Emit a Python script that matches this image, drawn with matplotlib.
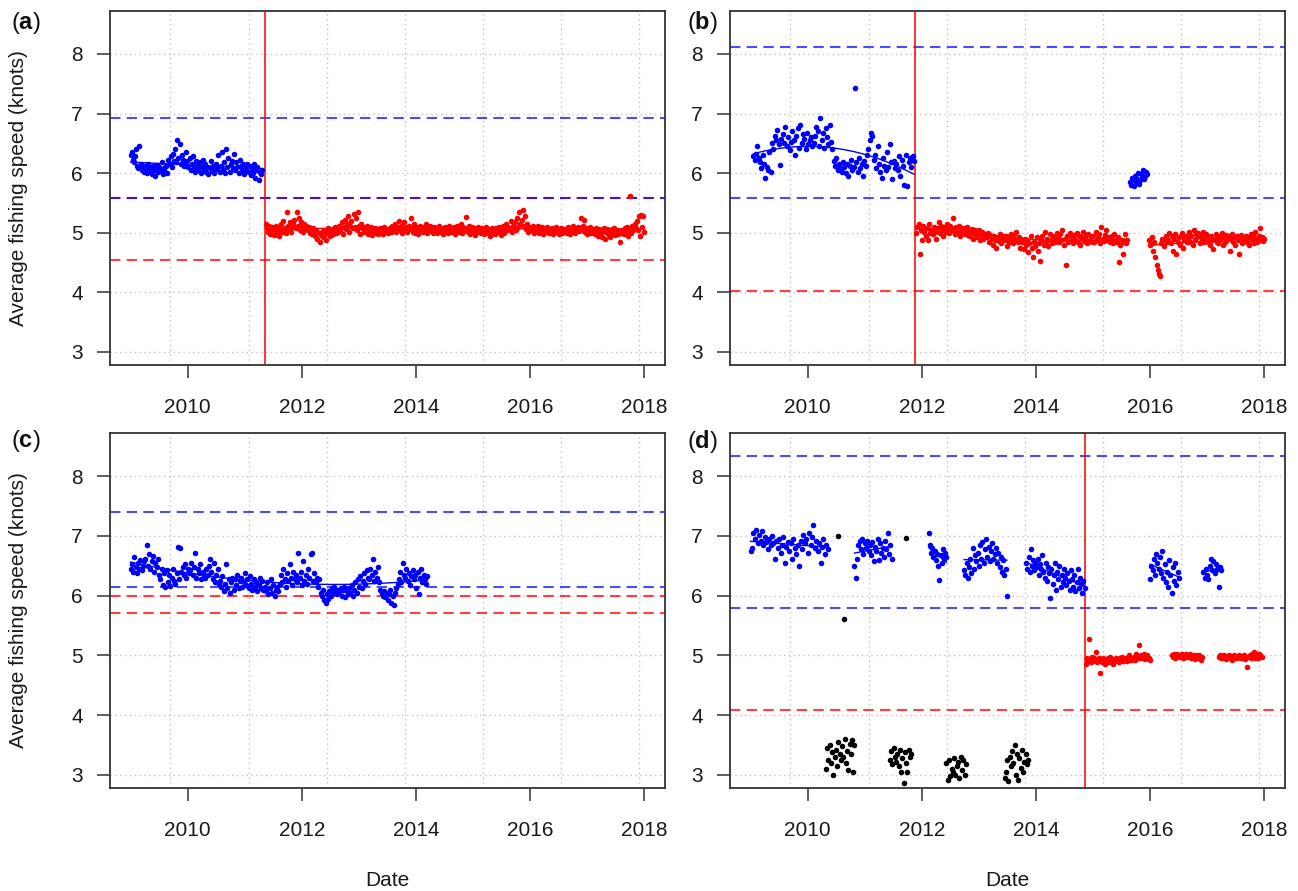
import numpy as np
import matplotlib.pyplot as plt

plt.rcParams['font.family'] = ['Liberation Sans', 'DejaVu Sans']
plt.rcParams['mathtext.fontset'] = 'custom'
plt.rcParams['mathtext.rm'] = 'Liberation Sans'
plt.rcParams['mathtext.bf'] = 'Liberation Sans:bold'

W, H = 1298, 891

# ---------------- data: average fishing speed (knots), dates in decimal years
# panel (a)
a_blue_span = (2009.0, 2011.30)
a_blue = [6.30, 6.35, 6.22, 6.18, 6.28, 6.40, 6.12, 6.08, 6.45, 6.15, 6.05, 6.10, 6.02,
          6.12, 6.08, 6.00, 6.15, 6.05, 6.10, 5.98, 6.12, 6.06, 5.95, 6.08, 6.14, 6.02,
          6.10, 6.05, 6.18, 5.98, 6.08, 6.02, 6.12, 6.00, 6.22, 6.15, 6.28, 6.10, 6.32,
          6.20, 6.40, 6.18, 6.55, 6.25, 6.48, 6.15, 6.30, 6.22, 6.12, 6.18, 6.35, 6.20,
          6.10, 6.25, 6.05, 6.15, 6.28, 6.08, 6.02, 6.20, 6.12, 6.05, 6.18, 6.00, 6.10,
          6.22, 6.05, 6.15, 6.02, 6.10, 5.98, 6.08, 6.20, 6.04, 6.12, 6.00, 6.06, 6.15,
          6.08, 6.30, 6.02, 6.12, 6.35, 6.05, 6.18, 6.00, 6.40, 6.10, 6.25, 6.02, 6.15,
          6.20, 6.08, 6.32, 6.05, 6.18, 6.10, 6.00, 6.22, 6.12, 6.05, 6.15, 5.98, 6.10,
          6.05, 6.15, 6.02, 6.12, 5.96, 6.08, 6.00, 6.15, 5.92, 6.05, 6.10, 5.88, 6.02, 5.98, 6.05]
a_red_span = (2011.37, 2018.0)
a_red = [5.15, 5.08, 5.02, 5.12, 4.98, 5.05, 5.10, 4.96, 5.04, 5.12, 5.00, 5.08, 4.95,
         5.06, 5.14, 5.02, 5.20, 5.08, 5.00, 5.35, 5.12, 5.05, 5.18, 5.02, 5.10, 5.15,
         5.22, 5.08, 5.35, 5.12, 5.25, 5.05, 5.18, 5.10, 5.02, 5.14, 5.08, 5.12, 5.04,
         5.10, 5.00, 5.06, 4.98, 5.08, 5.02, 4.95, 5.05, 4.90, 5.00, 4.85, 4.96, 5.02,
         4.92, 5.05, 4.98, 4.88, 5.02, 5.08, 4.95, 5.00, 5.06, 4.98, 5.04, 5.10, 5.00,
         5.08, 5.02, 5.12, 5.05, 5.18, 4.98, 5.10, 5.22, 5.06, 5.15, 5.28, 5.02, 5.12,
         5.20, 5.08, 5.32, 5.10, 5.25, 5.05, 5.35, 5.12, 4.98, 5.15, 5.08, 5.02, 5.10,
         5.05, 5.12, 4.98, 5.08, 5.02, 5.10, 4.96, 5.04, 5.08, 5.00, 5.06, 4.98, 5.03,
         5.08, 5.00, 5.05, 4.97, 5.10, 5.02, 5.06, 4.99, 5.04, 5.08, 5.01, 5.12, 5.03,
         5.06, 5.15, 5.02, 5.10, 5.20, 5.05, 5.12, 5.00, 5.08, 5.18, 5.04, 5.10, 5.02,
         5.12, 5.06, 5.25, 5.08, 5.02, 5.14, 5.00, 5.10, 5.05, 4.98, 5.12, 5.04, 5.08,
         5.02, 5.10, 5.05, 5.15, 5.00, 5.08, 5.03, 5.12, 5.06, 5.00, 5.10, 5.04, 5.08,
         5.00, 5.06, 5.12, 5.02, 5.08, 4.98, 5.05, 5.10, 5.03, 5.07, 5.00, 5.12, 5.05,
         5.08, 5.02, 5.10, 4.98, 5.06, 5.12, 5.02, 5.08, 5.04, 5.15, 5.00, 5.10, 5.05,
         5.27, 5.08, 5.02, 5.12, 4.98, 5.06, 5.10, 5.03, 5.08, 4.96, 5.05, 5.10, 5.02,
         5.06, 5.00, 5.08, 5.03, 4.97, 5.05, 5.10, 5.00, 5.06, 4.95, 5.04, 5.08, 5.02,
         5.05, 4.98, 5.08, 5.02, 5.10, 5.04, 4.96, 5.06, 5.12, 5.00, 5.08, 5.15, 5.04,
         5.10, 5.06, 5.20, 5.02, 5.12, 5.08, 5.18, 5.04, 5.25, 5.10, 5.35, 5.15, 5.22,
         5.38, 5.12, 5.28, 5.06, 5.15, 5.02, 5.10, 5.08, 5.04, 5.12, 5.00, 5.06, 5.10,
         5.04, 5.12, 5.00, 5.08, 5.03, 5.10, 4.98, 5.06, 5.02, 5.09, 5.04, 5.00, 5.07,
         5.02, 5.08, 4.98, 5.05, 5.10, 5.01, 5.06, 4.97, 5.04, 5.08, 5.00, 5.05, 5.02,
         5.06, 5.00, 5.10, 5.03, 4.98, 5.08, 5.02, 5.12, 5.04, 5.00, 5.06, 5.10, 5.03,
         5.08, 5.25, 5.04, 5.12, 5.22, 5.02, 5.08, 4.98, 5.05, 5.10, 5.00, 5.06, 5.02,
         5.05, 4.98, 5.08, 5.02, 4.95, 5.06, 5.00, 4.92, 5.04, 5.08, 4.90, 5.02, 5.06,
         4.98, 5.04, 4.92, 5.06, 5.00, 5.08, 4.96, 5.02, 5.05, 4.98, 5.03, 4.85, 5.00,
         5.04, 4.98, 5.08, 5.02, 5.10, 4.95, 5.06, 5.62, 5.00, 5.12, 5.04, 5.15, 5.08,
         5.20, 5.05, 5.28, 4.95, 5.30, 5.10, 5.28, 5.02]

# panel (b)
b_blue_span = (2009.05, 2011.86)
b_blue = [6.28, 6.22, 6.32, 6.45, 6.25, 6.18, 6.08, 6.30, 6.15, 5.92, 6.10, 6.05, 6.35, 6.02, 6.50,
          6.40, 6.62, 6.55, 6.72, 6.48, 6.13, 6.58, 6.65, 6.50, 6.78, 6.45, 6.60, 6.38, 6.52, 6.70,
          6.55, 6.30, 6.62, 6.75, 6.42, 6.80, 6.50, 6.65, 6.58, 6.40, 6.68, 6.48, 6.55, 6.60, 6.45,
          6.50, 6.62, 6.78, 6.70, 6.45, 6.92, 6.55, 6.68, 6.42, 6.75, 6.60, 6.48, 6.80, 6.52, 6.40,
          6.20, 6.12, 6.25, 6.05, 6.15, 6.08, 6.02, 6.18, 6.10, 6.00, 6.15, 5.95, 6.12, 6.22, 6.05,
          6.10, 7.43, 6.18, 6.02, 6.25, 6.08, 6.15, 5.95, 6.20, 6.12, 6.30, 6.40, 6.55, 6.68, 6.62,
          6.22, 6.30, 6.08, 6.45, 6.15, 6.02, 5.92, 6.25, 6.12, 6.05, 6.35, 6.10, 6.48, 6.18, 5.90,
          6.20, 6.08, 6.15, 6.05, 6.28, 5.95, 6.22, 6.12, 5.80, 6.30, 5.78, 6.18, 6.25, 6.10, 6.28, 6.20]
b_blue2_span = (2015.65, 2015.95)
b_blue2 = [5.85, 5.80, 5.92, 5.88, 5.78, 5.95, 5.85, 5.90, 6.00, 5.82, 5.88, 5.98,
           5.92, 6.05, 5.90, 5.95, 6.02, 5.98]
b_red_span = (2011.90, 2015.60)
b_red = [5.00, 5.10, 5.15, 4.65, 5.05, 4.88, 5.12, 5.02, 4.95, 5.08, 4.88, 5.15, 5.00, 5.05, 4.98,
         5.10, 5.02, 4.90, 5.08, 5.18, 5.00, 5.12, 5.05, 4.95, 5.10, 5.02, 5.15, 5.08, 5.00, 5.12,
         5.05, 5.25, 5.08, 4.98, 5.10, 5.02, 5.12, 4.95, 5.05, 5.00, 5.08, 4.98, 5.04, 5.10, 4.96,
         5.02, 4.95, 5.06, 4.90, 5.00, 5.04, 4.92, 4.98, 5.05, 4.88, 4.96, 5.02, 4.90, 4.98, 4.94,
         4.92, 5.00, 4.85, 4.96, 4.90, 4.80, 4.95, 4.88, 4.75, 4.92, 4.86, 4.98, 4.82, 4.90, 4.94,
         4.88, 4.95, 4.78, 4.92, 4.85, 4.98, 4.90, 4.82, 4.96, 4.88, 5.02, 4.85, 4.92, 4.75, 4.90,
         4.85, 4.72, 4.90, 4.80, 4.88, 4.68, 4.82, 4.95, 4.75, 4.60, 4.85, 4.78, 4.92, 4.70, 4.82,
         4.52, 4.88, 4.95, 4.80, 5.02, 4.85, 4.90, 4.78, 4.98, 4.88, 4.82, 4.95, 4.90, 4.85, 5.00,
         4.92, 4.85, 4.98, 4.88, 5.05, 4.80, 4.90, 4.46, 4.95, 4.85, 5.00, 4.88, 4.92, 4.82, 4.96,
         4.88, 5.00, 4.85, 4.95, 4.80, 4.92, 5.02, 4.86, 4.90, 4.96, 4.82, 4.98, 4.88, 4.94, 4.85,
         4.95, 4.85, 5.02, 4.88, 4.92, 4.98, 4.82, 5.10, 4.90, 4.86, 4.96, 5.05, 4.88, 4.92, 4.84,
         4.90, 4.95, 4.82, 4.98, 4.88, 4.85, 4.92, 4.50, 4.80, 4.88, 4.65, 4.85, 4.98, 4.82, 4.88]
b_red2_span = (2015.97, 2018.0)
b_red2 = [4.88, 4.80, 4.82, 4.92, 4.70, 4.85, 4.60, 4.45, 4.38, 4.30, 4.28, 4.82, 4.90, 4.78, 4.88, 4.95, 4.85,
          4.88, 5.00, 4.82, 4.95, 4.70, 4.90, 4.98, 4.65, 4.85, 4.92, 4.80, 4.95, 5.00, 4.75, 4.88, 4.95, 4.85,
          4.90, 5.02, 4.85, 4.95, 4.80, 5.05, 4.88, 4.98, 4.92, 5.00, 4.82, 4.95, 4.88, 5.02, 4.85, 4.92, 4.98,
          4.85, 4.92, 4.80, 4.95, 4.88, 4.72, 4.90, 4.98, 4.85, 4.82, 4.95, 4.88, 5.00, 4.80, 4.92, 4.85, 4.96,
          4.88, 4.95, 4.70, 4.90, 4.98, 4.85, 4.92, 4.80, 4.95, 4.88, 4.65, 4.90, 4.96, 4.82, 4.92, 4.88, 4.95,
          4.85, 4.92, 4.80, 4.98, 4.88, 4.95, 4.82, 5.02, 4.90, 4.85, 4.95, 5.08, 4.88, 4.92, 4.86, 4.90]

# panel (c)
c_blue_span = (2009.0, 2014.2)
c_blue = [6.45, 6.52, 6.40, 6.65, 6.48, 6.38, 6.55, 6.45, 6.60, 6.42, 6.50, 6.58,
          6.62, 6.84, 6.50, 6.70, 6.45, 6.58, 6.66, 6.40, 6.55, 6.48, 6.62, 6.35,
          6.28, 6.45, 6.18, 6.38, 6.15, 6.42, 6.22, 6.35, 6.16, 6.30, 6.45, 6.25,
          6.20, 6.38, 6.82, 6.28, 6.79, 6.40, 6.48, 6.35, 6.52, 6.30, 6.45, 6.38,
          6.42, 6.55, 6.35, 6.48, 6.72, 6.30, 6.45, 6.38, 6.52, 6.28, 6.40, 6.35,
          6.30, 6.45, 6.35, 6.50, 6.62, 6.40, 6.28, 6.55, 6.22, 6.35, 6.45, 6.20,
          6.25, 6.15, 6.32, 6.08, 6.20, 6.52, 6.12, 6.28, 6.05, 6.22, 6.30, 6.10,
          6.28, 6.18, 6.35, 6.12, 6.25, 6.30, 6.15, 6.22, 6.38, 6.18, 6.28, 6.12,
          6.32, 6.20, 6.10, 6.28, 6.15, 6.22, 6.08, 6.18, 6.30, 6.12, 6.25, 6.10,
          6.15, 6.08, 6.22, 6.02, 6.12, 6.28, 6.05, 6.18, 6.00, 6.10, 6.15, 6.08,
          6.20, 6.35, 6.22, 6.45, 6.28, 6.15, 6.38, 6.25, 6.52, 6.30, 6.18, 6.40,
          6.28, 6.35, 6.22, 6.72, 6.30, 6.40, 6.18, 6.58, 6.25, 6.35, 6.20, 6.45,
          6.30, 6.70, 6.72, 6.25, 6.38, 6.22, 6.30, 6.15, 6.28, 6.05, 6.00, 6.10,
          5.92, 5.88, 6.02, 5.95, 6.08, 6.00, 6.12, 6.05, 6.15, 6.08, 6.02, 6.10,
          6.05, 6.12, 6.00, 6.10, 6.15, 5.98, 6.08, 6.02, 6.12, 6.05, 6.18, 6.00,
          6.10, 6.22, 6.05, 6.28, 6.15, 6.32, 6.12, 6.25, 6.38, 6.20, 6.42, 6.30,
          6.28, 6.45, 6.35, 6.62, 6.25, 6.40, 6.30, 6.48, 6.22, 6.10, 6.05, 6.00,
          6.08, 5.98, 6.05, 5.92, 6.02, 6.10, 5.88, 6.00, 5.85, 6.05, 6.12, 6.20,
          6.28, 6.40, 6.22, 6.55, 6.35, 6.30, 6.45, 6.25, 6.38, 6.18, 6.32, 6.42,
          6.28, 6.35, 6.12, 6.40, 6.02, 6.30, 6.45, 6.22, 6.35, 6.28, 6.20, 6.32]

# panel (d): seasonal clusters
d_blue_spans = [(2009.0, 2010.35), (2010.82, 2011.47), (2012.12, 2012.43), (2012.74, 2013.49),
                (2013.83, 2014.85), (2016.0, 2016.5), (2016.93, 2017.24)]
d_blue = [
    [6.75, 6.80, 7.05, 6.95, 7.10, 6.88, 7.02, 6.92, 7.08, 6.85, 6.98, 6.90,
     6.78, 6.95, 6.85, 7.00, 6.88, 6.62, 6.92, 6.80, 6.95, 6.72, 6.85, 6.98,
     6.55, 6.82, 6.90, 6.75, 6.88, 6.62, 6.95, 6.80, 6.70, 6.85, 6.50, 6.92,
     6.78, 7.02, 6.88, 6.95, 6.72, 7.05, 6.85, 6.98, 7.18, 6.80, 6.92, 6.75,
     6.88, 6.55, 6.82, 6.95, 6.70, 6.85, 6.78],
    [6.50, 6.30, 6.62, 6.85, 6.92, 6.78, 6.95, 6.70, 6.88, 6.80, 6.92, 6.75, 6.85, 6.68, 6.90,
     6.58, 6.82, 6.75, 6.95, 6.60, 6.88, 6.72, 6.80, 6.65, 6.92, 6.78, 7.05, 6.70, 6.85, 6.62],
    [7.04, 6.85, 6.72, 6.80, 6.65, 6.75, 6.60, 6.70, 6.50, 6.26, 6.68, 6.55, 6.78, 6.62, 6.72, 6.65],
    [6.42, 6.35, 6.55, 6.30, 6.48, 6.62, 6.38, 6.80, 6.45, 6.68, 6.58, 6.72, 6.50, 6.85, 6.62,
     6.90, 6.55, 6.78, 6.95, 6.65, 6.82, 6.58, 6.75, 6.88, 6.62, 6.70, 6.80, 6.55, 6.72, 6.48,
     6.65, 6.40, 6.60, 6.35, 6.45, 6.00],
    [6.55, 6.45, 6.65, 6.40, 6.78, 6.50, 6.60, 6.42, 6.55, 6.48, 6.62, 6.35, 6.52, 6.45, 6.68,
     6.40, 6.30, 6.55, 6.25, 6.48, 6.38, 5.96, 6.45, 6.20, 6.35, 6.55, 6.10, 6.40, 6.28, 6.50,
     6.15, 6.35, 6.22, 6.45, 6.30, 6.18, 6.38, 6.25, 6.10, 6.42, 6.28, 6.15, 6.35, 6.08, 6.22,
     6.45, 6.12, 6.30, 6.20, 6.05, 6.25, 6.12],
    [6.28, 6.50, 6.42, 6.62, 6.35, 6.70, 6.55, 6.45, 6.65, 6.38, 6.75, 6.30, 6.52, 6.22, 6.40,
     6.15, 6.60, 6.35, 6.05, 6.48, 6.25, 6.55, 6.18, 6.40, 6.30],
    [6.40, 6.30, 6.45, 6.35, 6.28, 6.50, 6.62, 6.42, 6.58, 6.38, 6.52, 6.45, 6.15, 6.48, 6.42],
]
d_black_spans = [(2010.32, 2010.82), (2011.44, 2011.81), (2012.43, 2012.77), (2013.45, 2013.86)]
d_black = [
    [3.10, 3.45, 3.25, 3.50, 3.20, 3.38, 3.00, 3.30, 3.42, 3.15, 3.55, 3.35,
     3.25, 3.48, 3.30, 3.60, 3.20, 3.40, 3.08, 3.52, 3.35, 3.58, 3.05, 3.50],
    [3.25, 3.40, 3.18, 3.45, 3.30, 3.22, 3.35, 3.15, 3.42, 3.05, 3.28, 2.86, 3.38, 3.20, 3.05,
     3.42, 3.30, 3.35],
    [3.20, 2.92, 3.25, 2.98, 3.10, 3.05, 3.28, 3.00, 3.15, 3.22, 2.95, 3.30, 3.08, 3.25, 3.00, 3.18],
    [2.95, 3.05, 3.25, 2.90, 3.30, 3.15, 3.40, 3.20, 3.50, 3.00, 3.35, 2.92, 3.28, 3.12, 3.42,
     3.05, 3.22, 3.35, 3.18, 3.25],
]
d_black_x = [2010.54, 2010.64, 2011.73]
d_black_y = [7.00, 5.60, 6.96]
d_red_spans = [(2014.87, 2016.0), (2016.38, 2016.9), (2017.2, 2017.95)]
d_red = [
    [4.85, 4.95, 4.90, 5.28, 4.92, 4.88, 4.98, 4.90, 4.95, 5.05, 4.88, 4.92, 4.95, 4.70, 4.92,
     4.88, 4.95, 4.90, 4.85, 4.92, 4.95, 4.88, 4.98, 4.92, 4.90, 4.86, 4.94, 4.90, 4.96, 4.92,
     4.88, 4.95, 4.92, 4.98, 4.90, 4.94, 4.92, 4.96, 4.90, 4.95, 5.00, 4.92, 4.96, 4.94, 4.98,
     4.92, 5.02, 4.95, 4.98, 5.17, 4.95, 5.00, 4.96, 5.02, 4.94, 4.98, 5.00, 4.96, 4.95, 4.92],
    [5.00, 4.98, 5.02, 4.96, 5.00, 5.03, 4.97, 5.01, 4.99, 5.02, 4.96, 5.00, 4.98, 5.03,
     4.97, 5.00, 5.02, 4.95, 4.99, 5.01, 4.97, 4.94, 5.00, 4.98, 4.96, 5.01, 4.92, 4.98],
    [4.98, 5.00, 4.96, 4.99, 4.95, 5.01, 4.97, 4.94, 4.98, 5.00, 4.96, 4.99, 4.93, 4.97,
     5.00, 4.95, 4.98, 4.96, 5.01, 4.97, 4.95, 4.99, 4.96, 5.00, 4.94, 4.98, 4.80, 4.97,
     5.00, 4.96, 5.03, 4.98, 5.05, 4.96, 5.02, 4.99, 4.95, 5.03, 5.00, 4.97],
]

# change points and control limits per panel
change_pt = {'a': 2011.35, 'b': 2011.88, 'c': None, 'd': 2014.85}
blue_lim = {'a': [6.93, 5.58], 'b': [8.11, 5.59], 'c': [7.40, 6.14], 'd': [8.34, 5.79]}
red_lim = {'a': [5.58, 4.54], 'b': [4.02], 'c': [5.99, 5.71], 'd': [4.08]}

BLUE, RED = '#0000ff', '#ff0000'
MS = 4.0

fig = plt.figure(figsize=(W / 100, H / 100), dpi=100)

# panel boxes in pixels: left, top, width, height
boxes = {'a': (110, 11, 555, 354), 'b': (730, 11, 555, 354),
         'c': (110, 433, 555, 355), 'd': (730, 433, 555, 355)}
axes = {}
for k, (l, t, w, h) in boxes.items():
    axes[k] = fig.add_axes([l / W, 1 - (t + h) / H, w / W, h / H])


def pts(ax, span, vals, color, fit_deg=None):
    x = np.linspace(span[0], span[1], len(vals))
    y = np.array(vals)
    ax.plot(x, y, 'o', ms=MS, color=color, mec='none', zorder=3)
    if fit_deg is not None:
        c = np.polyfit(x, y, fit_deg)
        xs = np.linspace(x.min(), x.max(), 80)
        ax.plot(xs, np.polyval(c, xs), color=color, lw=1.0, zorder=4)


# grid lines every 500 days (R Date origin 1970)
grid_days = np.arange(14500, 18000, 500)
grid_x = 1970 + grid_days / 365.25

for k, ax in axes.items():
    ax.set_xlim(2008.64, 2018.36)
    ax.set_ylim(2.78, 8.72)
    for gx in grid_x:
        ax.axvline(gx, color='#c4c4c4', ls=(0, (1, 2.5)), lw=1.0, zorder=0)
    for gy in range(3, 9):
        ax.axhline(gy, color='#c4c4c4', ls=(0, (1, 2.5)), lw=1.0, zorder=0)
    ax.set_xticks([2010, 2012, 2014, 2016, 2018])
    ax.set_yticks([3, 4, 5, 6, 7, 8])
    ax.tick_params(axis='both', direction='out', length=9.5, width=1.1,
                   color='#333333', labelsize=15, labelcolor='#1a1a1a')
    ax.tick_params(axis='x', pad=14)
    ax.tick_params(axis='y', pad=10)
    for s in ax.spines.values():
        s.set_linewidth(1.3)
        s.set_color('#333333')
    for v in red_lim[k]:
        ax.axhline(v, color=RED, ls=(0, (5, 3)), lw=1.5, alpha=0.75, zorder=2)
    for v in blue_lim[k]:
        ax.axhline(v, color=BLUE, ls=(0, (5, 3)), lw=1.5, alpha=0.7, zorder=2)
    if change_pt[k] is not None:
        ax.axvline(change_pt[k], color=RED, lw=1.4, alpha=0.8, zorder=2)

pts(axes['a'], a_blue_span, a_blue, BLUE, 1)
pts(axes['a'], a_red_span, a_red, RED, 1)

pts(axes['b'], b_blue_span, b_blue, BLUE, 2)
pts(axes['b'], b_blue2_span, b_blue2, BLUE)
pts(axes['b'], b_red_span, b_red, RED, 2)
pts(axes['b'], b_red2_span, b_red2, RED, 1)

pts(axes['c'], c_blue_span, c_blue, BLUE, 2)

for span, vals in zip(d_blue_spans, d_blue):
    pts(axes['d'], span, vals, BLUE, 1)
for span, vals in zip(d_black_spans, d_black):
    pts(axes['d'], span, vals, 'black')
axes['d'].plot(d_black_x, d_black_y, 'o', ms=MS, color='black', mec='none', zorder=3)
for span, vals in zip(d_red_spans, d_red):
    pts(axes['d'], span, vals, RED, 1)

# panel letters (bold letter, plain brackets), axis titles
letters = {'a': (26, 23), 'b': (702, 23), 'c': (26, 441), 'd': (702, 442)}
for k, (px, py) in letters.items():
    fig.text(px / W, 1 - py / H, r'($\mathbf{' + k + '}$)', fontsize=17,
             ha='center', va='center', color='#111111')

for cy in (11 + 177, 433 + 177.5):
    fig.text(19 / W, 1 - cy / H, 'Average fishing speed (knots)', rotation=90,
             fontsize=15, ha='center', va='center', color='#1a1a1a')
for cx in (387.5, 1007.5):
    fig.text(cx / W, 1 - 880 / H, 'Date', fontsize=15, ha='center', va='center',
             color='#1a1a1a')

fig.savefig('out.png', dpi=100)
